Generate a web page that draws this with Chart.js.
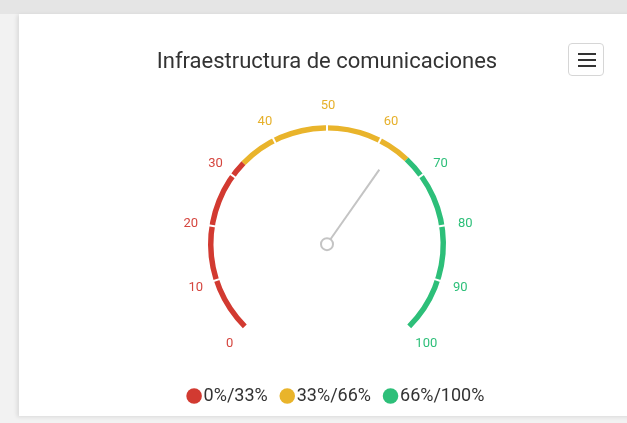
<!DOCTYPE html>
<html>
<head>
<meta charset="utf-8">
<script src="https://cdn.jsdelivr.net/npm/chart.js@4.4.0/dist/chart.umd.min.js"></script>
<style>
  html, body { margin: 0; padding: 0; overflow: hidden; }
  body { width: 627px; height: 423px; background: #f2f2f2; position: relative; font-family: Roboto, sans-serif; }
  .topband { position: absolute; left: 0; top: 0; width: 627px; height: 14px; background: #e5e5e5; }
  .card { position: absolute; left: 19px; top: 14px; width: 640px; height: 402px; background: #fff;
          box-shadow: -2px 1px 4px rgba(0,0,0,0.10); }
  .wrap { position: absolute; left: 0; top: 0; width: 627px; height: 423px; }
  .menu { position: absolute; left: 568px; top: 43px; width: 36px; height: 33px; box-sizing: border-box;
          border: 1px solid #d6d6d6; border-radius: 4px; background: #fff; }
  .menu span { position: absolute; left: 9px; width: 18px; height: 2px; background: #333; }
</style>
</head>
<body>
<div class="topband"></div>
<div class="card"></div>
<div class="wrap"><canvas id="gauge"></canvas></div>
<div class="menu"><span style="top:9px"></span><span style="top:15px"></span><span style="top:21px"></span></div>
<script>
(function() {

  // ─── DATA ───
  const bandLabels = ['0%/33%', '33%/66%', '66%/100%'];
  const bandSizes  = [33, 33, 34];
  const bandColors = ['#d23a31', '#e9b42b', '#2dbf79'];
  const tickValues = [0, 10, 20, 30, 40, 50, 60, 70, 80, 90, 100];
  const gaugeMin = 0;
  const gaugeMax = 100;
  const needleValue = 63;

  const labelColor = v => v < 33 ? '#d5453e' : (v < 66 ? '#e6b02a' : '#2dbf79');

  // ticks, labels and needle, placed from the arc geometry chart.js computed
  const gaugePlugin = {
    id: 'gauge',
    afterLayout(chart) {
      // legend sits a little right of the gauge centre in the original
      if (chart.legend) chart.legend.left += 24;
    },
    afterDatasetsDraw(chart) {
      const arcs = chart.getDatasetMeta(0).data;
      if (!arcs.length) return;
      const first = arcs[0], last = arcs[arcs.length - 1];
      const cx = first.x, cy = first.y;
      const rOut = first.outerRadius, rIn = first.innerRadius;
      const a0 = first.startAngle, a1 = last.endAngle;
      const ang = v => a0 + (v - gaugeMin) / (gaugeMax - gaugeMin) * (a1 - a0);
      const ctx = chart.ctx;
      ctx.save();

      // white separators at inner ticks
      ctx.strokeStyle = '#fff';
      ctx.lineWidth = 2;
      tickValues.forEach(v => {
        if (v === gaugeMin || v === gaugeMax) return;
        const a = ang(v);
        ctx.beginPath();
        ctx.moveTo(cx + Math.cos(a) * (rIn - 1), cy + Math.sin(a) * (rIn - 1));
        ctx.lineTo(cx + Math.cos(a) * (rOut + 1), cy + Math.sin(a) * (rOut + 1));
        ctx.stroke();
      });

      // tick labels
      ctx.font = '13px Roboto, sans-serif';
      ctx.textAlign = 'center';
      ctx.textBaseline = 'middle';
      tickValues.forEach(v => {
        const a = ang(v);
        const r = rOut + 20;
        ctx.fillStyle = labelColor(v);
        ctx.fillText(String(v), cx + Math.cos(a) * r + 1, cy + Math.sin(a) * r + 1);
      });

      // needle
      const a = ang(needleValue);
      const pivot = 6;
      ctx.strokeStyle = '#c4c4c4';
      ctx.lineWidth = 2;
      ctx.beginPath();
      ctx.moveTo(cx + Math.cos(a) * pivot, cy + Math.sin(a) * pivot);
      ctx.lineTo(cx + Math.cos(a) * 91, cy + Math.sin(a) * 91);
      ctx.stroke();
      ctx.beginPath();
      ctx.arc(cx, cy, pivot, 0, Math.PI * 2);
      ctx.fillStyle = '#fff';
      ctx.fill();
      ctx.stroke();

      ctx.restore();
    }
  };

  new Chart(document.getElementById('gauge'), {
    type: 'doughnut',
    data: {
      labels: bandLabels,
      datasets: [{
        data: bandSizes,
        backgroundColor: bandColors,
        borderWidth: 0,
        hoverOffset: 0
      }]
    },
    options: {
      responsive: true,
      maintainAspectRatio: false,
      animation: false,
      rotation: -135,
      circumference: 270,
      radius: 119,
      cutout: '95.4%',
      layout: { padding: { top: 39, left: 27, right: 0, bottom: 8 } },
      plugins: {
        title: {
          display: true,
          text: 'Infraestructura de comunicaciones',
          color: '#333',
          font: { family: 'Roboto', size: 22, weight: 'normal' },
          padding: { top: 10, bottom: 10 }
        },
        legend: {
          position: 'bottom',
          labels: {
            usePointStyle: true,
            pointStyle: 'circle',
            boxWidth: 1,
            boxHeight: 11,
            padding: 19,
            color: '#333',
            font: { family: 'Roboto', size: 18 }
          }
        },
        tooltip: { enabled: false }
      }
    },
    plugins: [gaugePlugin]
  });

})();
</script>
</body>
</html>
